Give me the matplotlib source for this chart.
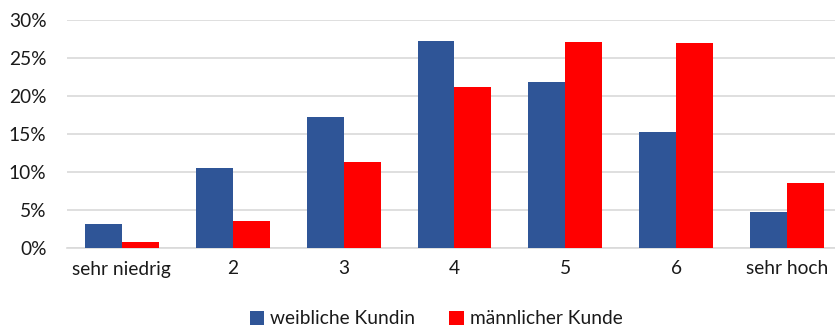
import matplotlib
matplotlib.use("Agg")
import matplotlib.pyplot as plt
import numpy as np
from matplotlib.ticker import PercentFormatter

categories = ["sehr niedrig", "2", "3", "4", "5", "6", "sehr hoch"]
weiblich = [3.2, 10.5, 17.2, 27.2, 21.8, 15.3, 4.7]
maennlich = [0.8, 3.6, 11.3, 21.2, 27.1, 27.0, 8.6]
series_names = ["weibliche Kundin", "männlicher Kunde"]

plt.rcParams["font.family"] = ["Lato", "DejaVu Sans"]
text_color = "#1a1a1a"

fig = plt.figure(figsize=(8.35, 3.27), dpi=100)
ax = fig.add_axes([66.5 / 835, 79 / 327, 776 / 835, 228 / 327])

x = np.arange(len(categories))
w = 0.333
ax.bar(x - w / 2, weiblich, width=w, color="#2F5597", label=series_names[0], zorder=3)
ax.bar(x + w / 2, maennlich, width=w, color="#FF0000", label=series_names[1], zorder=3)

ax.set_xlim(-0.5, len(categories) - 0.5)
ax.set_ylim(0, 30)
ax.set_yticks(np.arange(0, 31, 5))
ax.yaxis.set_major_formatter(PercentFormatter(decimals=0))
ax.set_xticks(x)
ax.set_xticklabels(categories)
ax.grid(axis="y", color="#D9D9D9", linewidth=1.2, zorder=0)
for s in ["top", "right", "left"]:
    ax.spines[s].set_visible(False)
ax.spines["bottom"].set_color("#D9D9D9")
ax.spines["bottom"].set_linewidth(1.2)
ax.tick_params(axis="both", length=0, labelsize=13.8, colors=text_color)
ax.tick_params(axis="y", pad=14.4)
ax.tick_params(axis="x", pad=9)

fig.legend(loc="center", bbox_to_anchor=(436 / 835, 1 - 319 / 327), ncol=2,
           frameon=False, fontsize=13.8, handlelength=0.75, handleheight=0.75,
           handletextpad=0.3, columnspacing=1.8, labelcolor=text_color)

fig.savefig("out.png", dpi=100)
